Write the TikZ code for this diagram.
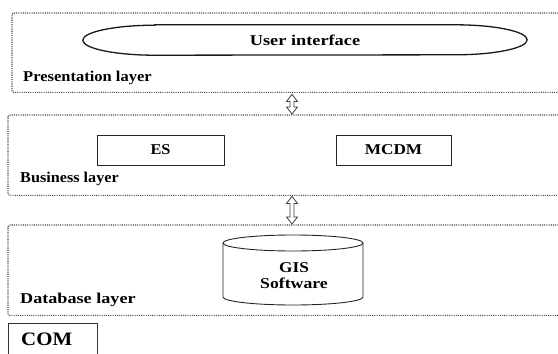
\documentclass[tikz,border=0pt]{standalone}
\usepackage{fontspec}
\setmainfont{Liberation Serif}
\usetikzlibrary{calc}
\newcommand{\sx}[2]{\scalebox{#1}[1]{#2}}
\tikzset{
  layerbox/.style={draw=none, rectangle, inner sep=0pt, anchor=north west},
  layerline/.style={draw=black!70, line width=1.1pt, dash pattern=on 1.1pt off 1.1pt},
  lbl/.style={anchor=west, inner sep=0pt, font=\fontsize{15}{17}\selectfont\bfseries},
  boxtext/.style={inner sep=0pt, font=\fontsize{15}{17}\selectfont\bfseries},
  solidbox/.style={draw=black!85, line width=0.9pt, rectangle, inner sep=0pt},
  hollowarrow/.style={draw=black!75, line width=0.8pt, fill=white, line join=miter}
}
\newcommand{\dblarrow}[2]{%
  \draw[hollowarrow] (#1) -- ++(-5.5,7) -- ++(3.5,0) -- ($(#2)+(-2,-7)$) -- ++(-3.5,0) -- (#2)
    -- ++(5.5,-7) -- ++(-3.5,0) -- ($(#1)+(2,7)$) -- ++(3.5,0) -- cycle;}
\begin{document}
\begin{tikzpicture}[x=1pt,y=-1pt]
\useasboundingbox (0,0) rectangle (558,354);
% layers
\node[layerbox, minimum width=546pt, minimum height=79pt] (pres) at (12,13) {};
\node[layerbox, minimum width=550pt, minimum height=80pt] (bus) at (8,115) {};
\node[layerbox, minimum width=550pt, minimum height=90pt] (db) at (8,225) {};
\foreach \L in {pres,bus,db}{
  \draw[layerline, rounded corners=1.5pt] (\L.north east) -- (\L.north west) -- (\L.south west) -- (\L.south east);
}
% presentation
\node[boxtext, minimum width=444pt, minimum height=30pt] (ui) at (305,40) {\sx{1.22}{User interface}};
\draw[line width=1.3pt, black!90] ([xshift=72pt]ui.north west) -- ([xshift=-72pt]ui.north east)
  arc[start angle=90, end angle=-90, x radius=72pt, y radius=15pt]
  -- ([xshift=72pt]ui.south west)
  arc[start angle=270, end angle=90, x radius=72pt, y radius=15pt] -- cycle;
\node[lbl] (plbl) at (23,78) {\sx{1.10}{Presentation layer}};
% business
\node[solidbox, minimum width=127pt, minimum height=30pt] (es) at (160.5,150) {};
\node[boxtext] (estext) at (es) {\sx{1.09}{ES}};
\node[solidbox, minimum width=115pt, minimum height=30pt] (mcdm) at (393.5,150) {};
\node[boxtext] (mcdmtext) at (mcdm) {\sx{1.15}{MCDM}};
\node[lbl] (blbl) at (20,179) {\sx{1.08}{Business layer}};
% database
\coordinate (cyltop) at (293,243);
\draw[line width=0.9pt, black!85] (223,243) -- (223,297) arc[start angle=180, end angle=360, x radius=70pt, y radius=8pt] -- (363,243);
\draw[line width=0.9pt, black!85] (cyltop) ellipse[x radius=70pt, y radius=8pt];
\node[boxtext, align=center] (gis) at (294,276) {\sx{1.15}{GIS}\\[-1pt]\sx{1.18}{Software}};
\node[lbl] (dlbl) at (20,300) {\sx{1.21}{Database layer}};
% arrows
\coordinate (a1) at ($(pres.south -| 292,0)+(0,2)$);
\coordinate (b1) at ($(bus.north -| 292,0)+(0,-1)$);
\coordinate (a2) at ($(bus.south -| 292,0)+(0,1)$);
\coordinate (b2) at ($(db.north -| 292,0)+(0,-1)$);
\dblarrow{a1}{b1}
\dblarrow{a2}{b2}
% COM
\node[inner sep=0pt, minimum width=89pt, minimum height=35pt, anchor=north west] (com) at (8,323) {};
\draw[line width=0.9pt, black!80] (com.south west) -- (com.north west) -- (com.north east) -- (com.south east);
\node[inner sep=0pt, font=\fontsize{19}{21}\selectfont\bfseries, anchor=west] (comtext) at (21,339) {\sx{1.1}{COM}};
\end{tikzpicture}
\end{document}
